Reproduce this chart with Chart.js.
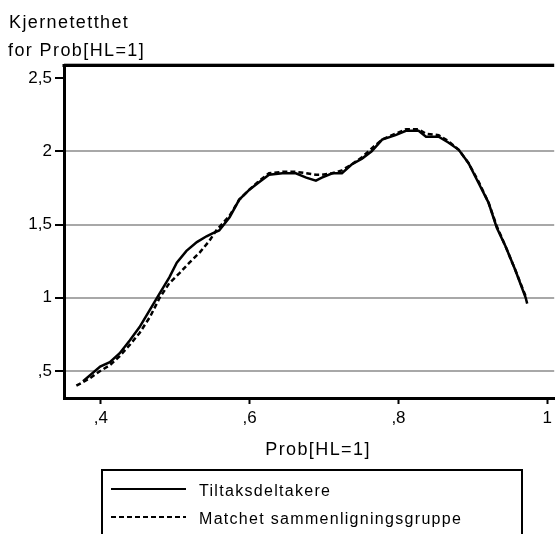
<!DOCTYPE html>
<html>
<head>
<meta charset="utf-8">
<script src="https://cdn.jsdelivr.net/npm/chart.js@4.4.0/dist/chart.umd.min.js"></script>
<style>
    html, body { margin: 0; padding: 0; background: #ffffff; overflow: hidden; }
    #wrap { width: 556px; height: 534px; }
</style>
</head>
<body>
<div id="wrap"><canvas id="densityChart" width="556" height="534"></canvas></div>
<script>
// Kjernetetthet for tiltaksdeltakere og matchet gruppe
const tiltakX = [0.376, 0.399, 0.412, 0.425, 0.439, 0.452, 0.466, 0.479, 0.492, 0.502, 0.515, 0.529, 0.542, 0.550, 0.559, 0.573, 0.586, 0.600, 0.613, 0.626, 0.644, 0.662, 0.676, 0.689, 0.697, 0.711, 0.724, 0.737, 0.751, 0.764, 0.778, 0.796, 0.810, 0.827, 0.837, 0.854, 0.867, 0.881, 0.894, 0.908, 0.921, 0.932, 0.944, 0.957, 0.971, 0.973];
const tiltakY = [0.43, 0.53, 0.56, 0.62, 0.71, 0.80, 0.92, 1.03, 1.14, 1.24, 1.32, 1.38, 1.42, 1.44, 1.46, 1.55, 1.67, 1.74, 1.79, 1.84, 1.85, 1.85, 1.82, 1.80, 1.82, 1.85, 1.85, 1.91, 1.95, 2.00, 2.08, 2.11, 2.14, 2.14, 2.10, 2.10, 2.06, 2.01, 1.92, 1.78, 1.65, 1.48, 1.35, 1.19, 1.00, 0.96];

const matchetX = [0.367, 0.385, 0.399, 0.412, 0.425, 0.439, 0.452, 0.466, 0.479, 0.492, 0.506, 0.519, 0.533, 0.546, 0.555, 0.573, 0.586, 0.600, 0.613, 0.626, 0.644, 0.662, 0.676, 0.689, 0.697, 0.711, 0.724, 0.737, 0.751, 0.764, 0.778, 0.796, 0.810, 0.827, 0.837, 0.854, 0.867, 0.881, 0.894, 0.908, 0.921, 0.932, 0.944, 0.957, 0.971];
const matchetY = [0.40, 0.45, 0.50, 0.54, 0.60, 0.68, 0.76, 0.87, 1.00, 1.10, 1.17, 1.24, 1.31, 1.39, 1.46, 1.56, 1.67, 1.74, 1.80, 1.85, 1.86, 1.86, 1.85, 1.84, 1.84, 1.85, 1.87, 1.91, 1.96, 2.02, 2.08, 2.12, 2.15, 2.15, 2.12, 2.11, 2.07, 2.01, 1.92, 1.79, 1.65, 1.49, 1.35, 1.19, 1.01];

const seriesNames = ['Tiltaksdeltakere', 'Matchet sammenligningsgruppe'];

const xTickValues = [0.4, 0.6, 0.8, 1.0];
const xTickLabels = [',4', ',6', ',8', '1'];
const yTickValues = [0.5, 1.0, 1.5, 2.0, 2.5];
const yTickLabels = [',5', '1', '1,5', '2', '2,5'];

const yTitle = ['Kjernetetthet', 'for Prob[HL=1]'];
const xTitle = 'Prob[HL=1]';

const FONT = '"Liberation Sans", Arial, sans-serif';

function toPoints(xs, ys) {
    return xs.map((x, i) => ({ x: x, y: ys[i] }));
}

// Titler, toppramme og forklaring tegnes direkte på lerretet
const annotations = {
    id: 'annotations',
    afterDraw(chart) {
        const ctx = chart.ctx;
        const area = chart.chartArea;
        ctx.save();

        // toppramme
        ctx.strokeStyle = '#b0b0b0';
        ctx.lineWidth = 1;
        ctx.beginPath();
        ctx.moveTo(area.left, area.top - 1.5);
        ctx.lineTo(area.right, area.top - 1.5);
        ctx.stroke();
        ctx.strokeStyle = '#000';
        ctx.lineWidth = 3;
        ctx.beginPath();
        ctx.moveTo(area.left - 1.5, area.top + 0.5);
        ctx.lineTo(area.right, area.top + 0.5);
        ctx.stroke();

        ctx.fillStyle = '#000';
        ctx.textBaseline = 'alphabetic';
        ctx.font = '18px ' + FONT;
        ctx.letterSpacing = '1.4px';
        ctx.textAlign = 'left';
        ctx.fillText(yTitle[0], 9, 28);
        ctx.fillText(yTitle[1], 8, 56);

        ctx.textAlign = 'center';
        ctx.fillText(xTitle, 318, 455);

        // forklaring
        ctx.lineWidth = 2;
        ctx.setLineDash([]);
        ctx.strokeRect(102, 470, 420, 80);

        const rows = [489, 517];
        chart.data.datasets.forEach((ds, i) => {
            ctx.setLineDash(ds.borderDash || []);
            ctx.lineWidth = 2;
            ctx.beginPath();
            ctx.moveTo(111, rows[i]);
            ctx.lineTo(186, rows[i]);
            ctx.stroke();
        });
        ctx.setLineDash([]);
        ctx.font = '16px ' + FONT;
        ctx.letterSpacing = '1.3px';
        ctx.textAlign = 'left';
        ctx.fillText(seriesNames[0], 199, 496);
        ctx.fillText(seriesNames[1], 199, 524);

        ctx.restore();
    }
};

const densityCtx = document.getElementById('densityChart').getContext('2d');
const densityChart = new Chart(densityCtx, {
    type: 'scatter',
    data: {
        datasets: [{
            label: seriesNames[0],
            data: toPoints(tiltakX, tiltakY),
            showLine: true,
            borderColor: '#000000',
            borderWidth: 2.5,
            pointRadius: 0,
            tension: 0
        }, {
            label: seriesNames[1],
            data: toPoints(matchetX, matchetY),
            showLine: true,
            borderColor: '#000000',
            borderWidth: 2.5,
            borderDash: [5, 3],
            pointRadius: 0,
            tension: 0
        }]
    },
    options: {
        responsive: false,
        animation: false,
        layout: {
            padding: { top: 65, left: 0, right: 0, bottom: 0 }
        },
        plugins: {
            legend: { display: false },
            tooltip: { enabled: false }
        },
        scales: {
            x: {
                type: 'linear',
                min: 0.3504,
                max: 1.0093,
                afterBuildTicks: (scale) => {
                    scale.ticks = xTickValues.map(v => ({ value: v }));
                },
                afterFit: (scale) => {
                    scale.height = 136;
                },
                ticks: {
                    color: '#000',
                    padding: 4,
                    font: { family: FONT, size: 17 },
                    maxRotation: 0,
                    callback: (value) => xTickLabels[xTickValues.indexOf(value)]
                },
                grid: {
                    drawOnChartArea: false,
                    drawTicks: true,
                    tickLength: 6,
                    tickWidth: 2,
                    tickColor: '#000'
                },
                border: { display: true, color: '#000', width: 3 }
            },
            y: {
                type: 'linear',
                min: 0.316,
                max: 2.589,
                afterBuildTicks: (scale) => {
                    scale.ticks = yTickValues.map(v => ({ value: v }));
                },
                afterFit: (scale) => {
                    scale.width = 64;
                },
                ticks: {
                    color: '#000',
                    padding: 3,
                    font: { family: FONT, size: 17 },
                    callback: (value) => yTickLabels[yTickValues.indexOf(value)]
                },
                grid: {
                    color: (c) => (c.tick && c.tick.value === 2.5) ? 'rgba(0,0,0,0)' : '#a8a8a8',
                    lineWidth: 2,
                    drawTicks: true,
                    tickLength: 9,
                    tickWidth: 2,
                    tickColor: '#000'
                },
                border: { display: true, color: '#000', width: 3 }
            }
        }
    },
    plugins: [annotations]
});
</script>
</body>
</html>
